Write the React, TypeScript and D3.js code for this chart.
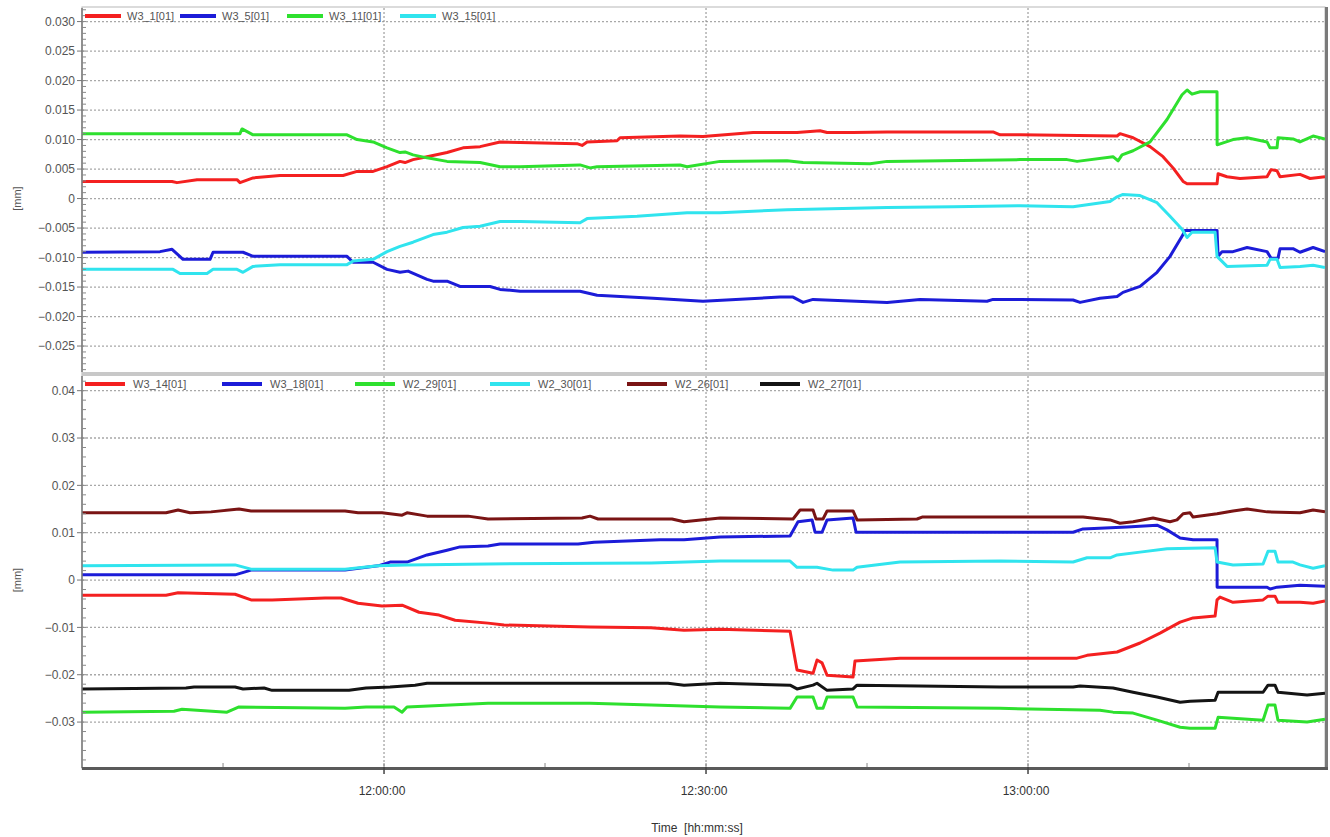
import React, { useEffect, useRef } from "react";
import * as d3 from "d3";

// [minutes after 11:30, value in mm]
type Pt = [number, number];

const W = 1330, H = 837;

// ---- top panel
const w3_1: Pt[] = [[1.86,0.0029],[10.25,0.0029],[10.71,0.0027],[12.58,0.0032],[16.30,0.0032],[16.58,0.0027],[17.80,0.0035],[20.31,0.0039],[26.18,0.0039],[27.49,0.0046],[28.98,0.0046],[30.28,0.0054],[31.49,0.0063],[31.96,0.0061],[32.70,0.0066],[34.01,0.0071],[35.87,0.0078],[37.36,0.0086],[38.95,0.0088],[40.81,0.0096],[42.67,0.0095],[47.98,0.0093],[48.45,0.0090],[48.92,0.0096],[51.71,0.0098],[51.99,0.0103],[57.58,0.0106],[59.72,0.0105],[64.38,0.0112],[68.48,0.0112],[70.62,0.0115],[71.28,0.0112],[73.70,0.0112],[76.87,0.0113],[86.74,0.0113],[87.40,0.0108],[89.26,0.0108],[98.30,0.0106],[98.57,0.0110],[99.79,0.0103],[101.37,0.0088],[102.58,0.0071],[103.51,0.0052],[104.45,0.0029],[104.82,0.0025],[107.61,0.0025],[107.71,0.0042],[108.54,0.0037],[109.75,0.0034],[112.27,0.0037],[112.64,0.0049],[113.20,0.0047],[113.48,0.0037],[115.34,0.0041],[116.28,0.0034],[117.67,0.0037]];
const w3_5: Pt[] = [[1.86,-0.0091],[9.13,-0.0090],[10.25,-0.0086],[11.27,-0.0103],[13.79,-0.0103],[14.07,-0.0091],[16.86,-0.0091],[17.80,-0.0098],[26.55,-0.0098],[27.11,-0.0108],[28.98,-0.0108],[30.28,-0.0120],[31.49,-0.0125],[32.24,-0.0123],[34.01,-0.0137],[34.57,-0.0140],[35.87,-0.0140],[37.08,-0.0149],[39.88,-0.0149],[40.81,-0.0154],[42.67,-0.0157],[48.26,-0.0157],[49.85,-0.0164],[55.06,-0.0169],[59.72,-0.0174],[66.90,-0.0167],[68.11,-0.0167],[69.04,-0.0176],[69.97,-0.0171],[76.87,-0.0176],[79.94,-0.0171],[86.18,-0.0174],[86.74,-0.0171],[89.26,-0.0171],[94.20,-0.0172],[94.85,-0.0176],[96.71,-0.0169],[98.30,-0.0166],[98.85,-0.0159],[100.44,-0.0149],[102.02,-0.0125],[103.23,-0.0098],[104.35,-0.0064],[104.63,-0.0054],[107.61,-0.0054],[107.71,-0.0098],[108.08,-0.0090],[109.10,-0.0090],[110.41,-0.0083],[112.27,-0.0090],[112.64,-0.0101],[113.29,-0.0101],[113.48,-0.0085],[114.69,-0.0085],[115.34,-0.0091],[116.56,-0.0083],[117.67,-0.0090]];
const w3_11: Pt[] = [[1.86,0.0110],[16.58,0.0110],[16.77,0.0118],[17.80,0.0108],[26.55,0.0108],[27.49,0.0100],[28.98,0.0096],[30.28,0.0086],[31.49,0.0078],[31.96,0.0079],[32.70,0.0074],[34.01,0.0069],[35.87,0.0063],[38.95,0.0061],[40.81,0.0054],[42.67,0.0054],[48.26,0.0057],[49.19,0.0052],[49.85,0.0054],[57.58,0.0057],[58.23,0.0054],[61.31,0.0063],[67.55,0.0064],[69.04,0.0061],[75.28,0.0059],[76.87,0.0063],[89.26,0.0066],[93.64,0.0066],[94.57,0.0063],[97.92,0.0071],[98.39,0.0064],[98.76,0.0074],[99.79,0.0081],[101.37,0.0096],[102.95,0.0134],[104.35,0.0176],[104.82,0.0184],[105.28,0.0177],[106.03,0.0181],[107.61,0.0181],[107.62,0.0091],[109.10,0.0100],[110.41,0.0103],[112.27,0.0096],[112.55,0.0086],[113.20,0.0086],[113.29,0.0103],[114.69,0.0101],[115.34,0.0096],[116.56,0.0106],[117.67,0.0101]];
const w3_15: Pt[] = [[1.86,-0.0120],[10.34,-0.0120],[10.99,-0.0127],[13.51,-0.0127],[14.07,-0.0120],[16.30,-0.0120],[16.86,-0.0125],[17.80,-0.0115],[20.31,-0.0112],[26.55,-0.0112],[27.11,-0.0106],[28.98,-0.0103],[30.28,-0.0090],[31.49,-0.0081],[32.70,-0.0074],[34.57,-0.0061],[35.87,-0.0057],[37.36,-0.0049],[38.95,-0.0047],[40.81,-0.0039],[42.67,-0.0039],[48.26,-0.0041],[48.92,-0.0034],[53.57,-0.0030],[58.23,-0.0024],[61.31,-0.0024],[67.55,-0.0019],[76.87,-0.0015],[83.02,-0.0014],[89.26,-0.0012],[94.20,-0.0014],[97.64,-0.0005],[98.30,0.0003],[98.85,0.0007],[100.44,0.0005],[102.02,-0.0007],[103.23,-0.0030],[104.35,-0.0052],[104.82,-0.0066],[105.28,-0.0057],[107.43,-0.0057],[107.61,-0.0098],[108.54,-0.0115],[112.27,-0.0113],[112.55,-0.0103],[113.20,-0.0103],[113.48,-0.0117],[115.34,-0.0115],[116.56,-0.0113],[117.67,-0.0117]];

// ---- bottom panel
const w3_14: Pt[] = [[1.86,-0.0032],[9.69,-0.0032],[10.81,-0.0027],[16.12,-0.0030],[17.61,-0.0042],[19.57,-0.0042],[24.50,-0.0038],[25.99,-0.0038],[27.58,-0.0049],[29.81,-0.0055],[31.68,-0.0053],[33.26,-0.0068],[35.13,-0.0074],[36.62,-0.0085],[39.69,-0.0091],[41.18,-0.0095],[49.19,-0.0099],[54.88,-0.0101],[57.95,-0.0106],[61.31,-0.0104],[67.83,-0.0108],[68.48,-0.0190],[69.97,-0.0197],[70.34,-0.0169],[70.81,-0.0175],[71.28,-0.0201],[73.70,-0.0205],[73.88,-0.0171],[78.08,-0.0165],[87.40,-0.0165],[94.57,-0.0165],[95.50,-0.0159],[98.30,-0.0152],[100.44,-0.0133],[102.30,-0.0112],[104.17,-0.0089],[105.38,-0.0080],[107.43,-0.0076],[107.61,-0.0042],[107.89,-0.0036],[109.10,-0.0047],[111.90,-0.0042],[112.36,-0.0034],[113.01,-0.0034],[113.29,-0.0047],[115.34,-0.0047],[116.56,-0.0049],[117.67,-0.0044]];
const w3_18: Pt[] = [[1.86,0.0011],[16.12,0.0011],[17.61,0.0021],[26.37,0.0021],[29.44,0.0030],[30.56,0.0038],[32.14,0.0038],[34.01,0.0053],[35.87,0.0063],[37.08,0.0070],[39.69,0.0072],[40.81,0.0076],[48.08,0.0076],[49.57,0.0080],[55.72,0.0085],[57.95,0.0085],[61.31,0.0091],[67.83,0.0093],[68.57,0.0123],[69.88,0.0127],[70.16,0.0101],[70.81,0.0101],[71.28,0.0127],[73.70,0.0131],[73.98,0.0101],[78.08,0.0101],[94.20,0.0101],[95.13,0.0108],[99.22,0.0112],[102.02,0.0116],[102.95,0.0106],[104.17,0.0089],[105.38,0.0085],[107.61,0.0085],[107.62,-0.0015],[112.27,-0.0015],[112.55,-0.0019],[113.20,-0.0015],[115.34,-0.0011],[117.67,-0.0013]];
const w2_29: Pt[] = [[1.86,-0.0279],[10.43,-0.0277],[11.18,-0.0273],[15.37,-0.0279],[16.49,-0.0268],[26.37,-0.0271],[28.32,-0.0268],[30.93,-0.0268],[31.68,-0.0279],[32.14,-0.0268],[39.69,-0.0260],[49.19,-0.0260],[54.88,-0.0264],[61.31,-0.0268],[67.83,-0.0271],[68.48,-0.0247],[69.97,-0.0247],[70.34,-0.0271],[70.90,-0.0271],[71.28,-0.0247],[73.70,-0.0247],[74.07,-0.0268],[87.40,-0.0271],[96.71,-0.0275],[97.92,-0.0279],[99.79,-0.0281],[102.02,-0.0296],[104.17,-0.0311],[105.10,-0.0313],[107.43,-0.0313],[107.71,-0.0290],[111.90,-0.0296],[112.36,-0.0264],[113.01,-0.0264],[113.29,-0.0296],[116.00,-0.0300],[117.67,-0.0294]];
const w2_30: Pt[] = [[1.86,0.0030],[16.12,0.0032],[17.61,0.0023],[26.37,0.0023],[29.44,0.0030],[32.14,0.0032],[39.69,0.0034],[54.88,0.0036],[61.31,0.0040],[67.83,0.0040],[68.48,0.0027],[70.34,0.0027],[71.84,0.0021],[73.70,0.0021],[74.07,0.0027],[78.08,0.0038],[87.40,0.0040],[94.20,0.0038],[95.50,0.0047],[97.64,0.0047],[98.30,0.0053],[100.44,0.0059],[102.95,0.0066],[107.43,0.0068],[107.61,0.0038],[109.10,0.0032],[111.90,0.0034],[112.36,0.0061],[113.01,0.0061],[113.29,0.0038],[114.69,0.0038],[115.34,0.0032],[116.56,0.0025],[117.67,0.0030]];
const w2_26: Pt[] = [[1.86,0.0142],[9.69,0.0142],[10.81,0.0148],[11.93,0.0142],[13.88,0.0144],[16.49,0.0150],[17.61,0.0146],[26.37,0.0146],[27.58,0.0142],[29.81,0.0142],[31.68,0.0137],[32.14,0.0142],[34.01,0.0135],[37.83,0.0135],[39.69,0.0129],[48.45,0.0131],[49.19,0.0135],[49.94,0.0129],[56.83,0.0129],[57.95,0.0123],[61.31,0.0131],[68.11,0.0129],[68.76,0.0148],[69.97,0.0148],[70.25,0.0129],[70.90,0.0129],[71.28,0.0146],[73.70,0.0146],[74.07,0.0127],[79.66,0.0129],[80.13,0.0133],[87.40,0.0133],[95.13,0.0133],[97.64,0.0127],[98.57,0.0120],[99.79,0.0123],[101.65,0.0131],[103.23,0.0123],[103.88,0.0127],[104.45,0.0140],[105.10,0.0142],[105.38,0.0133],[107.61,0.0140],[109.10,0.0146],[110.41,0.0150],[112.27,0.0144],[115.34,0.0142],[116.56,0.0148],[117.67,0.0144]];
const w2_27: Pt[] = [[1.86,-0.0230],[11.55,-0.0228],[12.30,-0.0226],[16.12,-0.0226],[16.86,-0.0230],[18.82,-0.0228],[19.57,-0.0233],[26.74,-0.0233],[28.32,-0.0228],[30.56,-0.0226],[32.89,-0.0222],[34.01,-0.0218],[40.06,-0.0218],[56.46,-0.0218],[57.95,-0.0222],[61.31,-0.0218],[67.83,-0.0222],[68.48,-0.0230],[69.97,-0.0222],[70.34,-0.0218],[71.28,-0.0233],[73.70,-0.0230],[74.07,-0.0222],[87.40,-0.0226],[94.20,-0.0226],[94.85,-0.0224],[97.92,-0.0228],[99.79,-0.0237],[102.02,-0.0247],[104.17,-0.0258],[105.10,-0.0256],[107.43,-0.0254],[107.71,-0.0237],[111.90,-0.0237],[112.36,-0.0222],[113.01,-0.0222],[113.29,-0.0237],[116.00,-0.0243],[117.67,-0.0239]];

const topSeries = [
  { name: "W3_1[01]", color: "#f42020", data: w3_1 },
  { name: "W3_5[01]", color: "#1c1cd8", data: w3_5 },
  { name: "W3_11[01]", color: "#2ee02e", data: w3_11 },
  { name: "W3_15[01]", color: "#30e4ee", data: w3_15 },
];
const bottomSeries = [
  { name: "W3_14[01]", color: "#f42020", data: w3_14 },
  { name: "W3_18[01]", color: "#1c1cd8", data: w3_18 },
  { name: "W2_29[01]", color: "#2ee02e", data: w2_29 },
  { name: "W2_30[01]", color: "#30e4ee", data: w2_30 },
  { name: "W2_26[01]", color: "#7a1414", data: w2_26 },
  { name: "W2_27[01]", color: "#141414", data: w2_27 },
];

const topTicks = [0.03, 0.025, 0.02, 0.015, 0.01, 0.005, 0, -0.005, -0.01, -0.015, -0.02, -0.025];
const bottomTicks = [0.04, 0.03, 0.02, 0.01, 0, -0.01, -0.02, -0.03];
const timeLabels = ["12:00:00", "12:30:00", "13:00:00"];
const timeStart = 1.86, timeEnd = 117.67; // minutes after 11:30

const base = new Date(2020, 0, 1, 11, 30, 0);
const toDate = (m: number) => new Date(base.getTime() + m * 60000);

const App = () => {
  const ref = useRef<SVGSVGElement>(null);

  useEffect(() => {
    document.body.style.margin = "0";
    const svg = d3.select(ref.current);
    svg.selectAll("*").remove();

    const left = 82, right = 1325;
    const font = "'Liberation Sans', Arial, sans-serif";

    const x = d3.scaleTime().domain([toDate(timeStart), toDate(timeEnd)]).range([left, right]);

    const panels = [
      { series: topSeries, ticks: topTicks, top: 8, bottom: 372, domain: [-0.0294, 0.0323], minor: 0.001, fmt: d3.format(".3f"), legendStep: [0, 95, 202, 315] },
      { series: bottomSeries, ticks: bottomTicks, top: 376, bottom: 768, domain: [-0.0397, 0.0431], minor: 0.002, fmt: d3.format(".2f"), legendStep: [0, 137, 270, 405, 542, 675] },
    ];

    const majorTimes = timeLabels.map((t) => {
      const [h, m] = t.split(":").map(Number);
      return toDate((h - 11) * 60 + m - 30);
    });
    const minorTimes = d3.timeMinute.every(15)!.range(toDate(timeStart), toDate(timeEnd));

    // frame
    svg.append("rect").attr("x", left).attr("y", 7).attr("width", right - left).attr("height", 762)
      .attr("fill", "#fff").attr("stroke", "#b8b8b8").attr("stroke-width", 1);

    panels.forEach((p, pi) => {
      const y = d3.scaleLinear().domain(p.domain).range([p.bottom, p.top]);
      const g = svg.append("g");
      const clipId = "clip" + pi;
      svg.append("clipPath").attr("id", clipId).append("rect")
        .attr("x", left).attr("y", p.top).attr("width", right - left).attr("height", p.bottom - p.top);

      // horizontal dotted grid
      g.selectAll(".hg").data(p.ticks).enter().append("line")
        .attr("x1", left).attr("x2", right)
        .attr("y1", (d) => y(d)).attr("y2", (d) => y(d))
        .attr("stroke", "#a8a8a8").attr("stroke-width", 1.3).attr("stroke-dasharray", "2,2");
      // vertical dashed grid
      g.selectAll(".vg").data(majorTimes).enter().append("line")
        .attr("x1", (d) => x(d)).attr("x2", (d) => x(d))
        .attr("y1", p.top).attr("y2", p.bottom)
        .attr("stroke", "#8a8a8a").attr("stroke-width", 1).attr("stroke-dasharray", "2,2");

      // lines
      const line = d3.line<Pt>().x((d) => x(toDate(d[0]))).y((d) => y(d[1]));
      g.append("g").attr("clip-path", `url(#${clipId})`).selectAll("path").data(p.series).enter().append("path")
        .attr("d", (s) => line(s.data))
        .attr("fill", "none").attr("stroke", (s) => s.color)
        .attr("stroke-width", 3).attr("stroke-linejoin", "round");

      // y axis
      g.append("line").attr("x1", left).attr("x2", left).attr("y1", p.top).attr("y2", p.bottom)
        .attr("stroke", "#777").attr("stroke-width", 1.5);
      const minorVals = d3.range(Math.ceil(p.domain[0] / p.minor), Math.floor(p.domain[1] / p.minor) + 1).map((k) => k * p.minor);
      g.selectAll(".mt").data(minorVals).enter().append("line")
        .attr("x1", left).attr("x2", left + 4)
        .attr("y1", (d) => y(d)).attr("y2", (d) => y(d))
        .attr("stroke", "#888").attr("stroke-width", 1);
      g.selectAll(".Mt").data(p.ticks).enter().append("line")
        .attr("x1", left - 5).attr("x2", left)
        .attr("y1", (d) => y(d)).attr("y2", (d) => y(d))
        .attr("stroke", "#777").attr("stroke-width", 1);
      g.selectAll(".yl").data(p.ticks).enter().append("text")
        .attr("x", left - 7).attr("y", (d) => y(d)).attr("dy", "0.35em")
        .attr("text-anchor", "end").attr("font-family", font).attr("font-size", 12).attr("fill", "#555")
        .text((d) => (d === 0 ? "0" : p.fmt(d)));
      g.append("text")
        .attr("transform", `translate(17,${y(0)}) rotate(-90)`)
        .attr("text-anchor", "middle").attr("dy", "0.35em")
        .attr("font-family", font).attr("font-size", 11).attr("fill", "#555").text("[mm]");

      // legend
      const ly = p.top + 8;
      const lg = g.selectAll(".lg").data(p.series).enter().append("g")
        .attr("transform", (_, i) => `translate(${left + 3 + p.legendStep[i]},${ly})`);
      lg.append("rect").attr("x", 0).attr("y", -2).attr("width", pi === 0 ? 36 : 40).attr("height", 4).attr("fill", (s) => s.color);
      lg.append("text").attr("x", pi === 0 ? 42 : 48).attr("y", 0).attr("dy", "0.35em")
        .attr("font-family", font).attr("font-size", 11).attr("fill", "#555").text((s) => s.name);
    });

    // panel separator
    svg.append("rect").attr("x", left).attr("y", 372).attr("width", right - left + 3).attr("height", 4).attr("fill", "#c8c8c8");
    // right border
    svg.append("rect").attr("x", right).attr("y", 7).attr("width", 3).attr("height", 763).attr("fill", "#7a7a7a");

    // x axis
    svg.append("rect").attr("x", left).attr("y", 767).attr("width", right - left + 3).attr("height", 3).attr("fill", "#5a5a5a");
    svg.selectAll(".xm").data(minorTimes).enter().append("line")
      .attr("x1", (d) => x(d)).attr("x2", (d) => x(d)).attr("y1", 763).attr("y2", 767)
      .attr("stroke", "#888").attr("stroke-width", 1);
    svg.selectAll(".xM").data(majorTimes).enter().append("line")
      .attr("x1", (d) => x(d)).attr("x2", (d) => x(d)).attr("y1", 767).attr("y2", 774)
      .attr("stroke", "#444").attr("stroke-width", 1.5);
    svg.selectAll(".xl").data(majorTimes).enter().append("text")
      .attr("x", (d) => x(d) - 2).attr("y", 795)
      .attr("text-anchor", "middle").attr("font-family", font).attr("font-size", 12).attr("fill", "#333")
      .text((_, i) => timeLabels[i]);
    svg.append("text").attr("x", 697).attr("y", 832).attr("text-anchor", "middle")
      .attr("font-family", font).attr("font-size", 12).attr("fill", "#333")
      .style("white-space", "pre").text("Time  [hh:mm:ss]");
  }, []);

  return <svg ref={ref} width={W} height={H} style={{ display: "block", background: "#fff" }} />;
};

export default App;
